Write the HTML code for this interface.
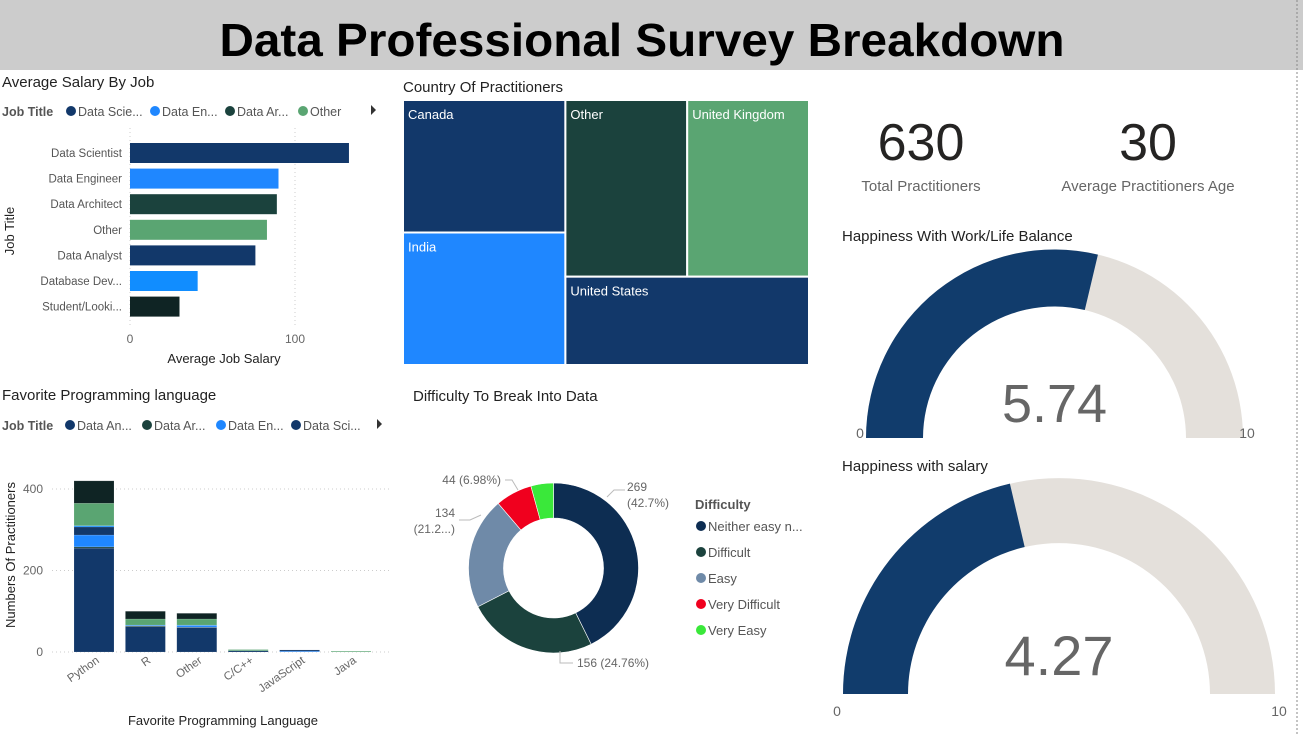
<!DOCTYPE html>
<html><head><meta charset="utf-8">
<style>
html,body{margin:0;padding:0;background:#fff;}
svg{display:block;font-family:"Liberation Sans",sans-serif;}
</style></head>
<body>
<svg id="s" width="1303" height="734" viewBox="0 0 1303 734" xmlns="http://www.w3.org/2000/svg">
<rect x="0" y="0" width="1303" height="70" fill="#cccccc"/>
<text x="642" y="56" text-anchor="middle" font-size="46" font-weight="bold" textLength="845" lengthAdjust="spacingAndGlyphs" fill="#000">Data Professional Survey Breakdown</text>
<line x1="1297" y1="0" x2="1297" y2="734" stroke="#888" stroke-dasharray="2,2"/>

<!-- Salary chart -->
<g id="sal">
<text x="2" y="87" font-size="15" fill="#222">Average Salary By Job</text>
<g font-size="12.5" fill="#555">
<text x="2" y="116" font-weight="bold">Job Title</text>
<circle cx="71" cy="111" r="5" fill="#12386a"/><text x="78" y="116">Data Scie...</text>
<circle cx="155" cy="111" r="5" fill="#1f87ff"/><text x="162" y="116">Data En...</text>
<circle cx="230" cy="111" r="5" fill="#1b423d"/><text x="237" y="116">Data Ar...</text>
<circle cx="303" cy="111" r="5" fill="#5aa572"/><text x="310" y="116">Other</text>
<path d="M371,105 L376,110 L371,115 Z" fill="#333"/>
</g>
<text transform="translate(14,231) rotate(-90)" text-anchor="middle" font-size="13" fill="#222">Job Title</text>
<text x="224" y="363" text-anchor="middle" font-size="13" fill="#222">Average Job Salary</text>
</g>

<!-- Language chart -->
<g id="lang">
<text x="2" y="400" font-size="15" fill="#222">Favorite Programming language</text>
<g font-size="12.5" fill="#555">
<text x="2" y="430" font-weight="bold">Job Title</text>
<circle cx="70" cy="425" r="5" fill="#12386a"/><text x="77" y="430">Data An...</text>
<circle cx="147" cy="425" r="5" fill="#1b423d"/><text x="154" y="430">Data Ar...</text>
<circle cx="221" cy="425" r="5" fill="#1f87ff"/><text x="228" y="430">Data En...</text>
<circle cx="296" cy="425" r="5" fill="#12386a"/><text x="303" y="430">Data Sci...</text>
<path d="M377,419 L382,424 L377,429 Z" fill="#333"/>
</g>
<text transform="translate(15,555) rotate(-90)" text-anchor="middle" font-size="13" fill="#222">Numbers Of Practitioners</text>
<text x="223" y="725" text-anchor="middle" font-size="13" fill="#222">Favorite Programming Language</text>
</g>

<!-- Treemap -->
<g id="tree">
<text x="403" y="92" font-size="15" fill="#222">Country Of Practitioners</text>
</g>

<!-- Donut -->
<g id="donut">
<text x="413" y="401" font-size="15" fill="#222">Difficulty To Break Into Data</text>
</g>

<!-- KPIs -->
<g>
<text x="921" y="160" text-anchor="middle" font-size="52" fill="#252423">630</text>
<text x="921" y="191" text-anchor="middle" font-size="15" fill="#666">Total Practitioners</text>
<text x="1148" y="160" text-anchor="middle" font-size="52" fill="#252423">30</text>
<text x="1148" y="191" text-anchor="middle" font-size="15" fill="#666">Average Practitioners Age</text>
</g>
<g id="gauges">
<text x="842" y="241" font-size="15" fill="#222">Happiness With Work/Life Balance</text>
<text x="842" y="471" font-size="15" fill="#222">Happiness with salary</text>
</g>
</svg>
<script>
const NS="http://www.w3.org/2000/svg";
function mk(parent,tag,attrs,txt){const e=document.createElementNS(NS,tag);for(const k in attrs)e.setAttribute(k,attrs[k]);if(txt!==undefined)e.textContent=txt;parent.appendChild(e);return e;}

// ---- Salary data
const salaryJobs=["Data Scientist","Data Engineer","Data Architect","Other","Data Analyst","Database Dev...","Student/Looki..."];
const salaryValues=[132.7,90,89,83,76,41,30];
const salaryColors=["#12386a","#1f87ff","#1b423d","#5aa572","#12386a","#118dff","#0f2424"];
const salaryTicks=[0,100];
// ---- Language data
const langs=["Python","R","Other","C/C++","JavaScript","Java"];
const langSeries=["Data Analyst","Data Architect","Data Engineer","Data Scientist","Database Developer","Other","Student"];
const langColors=["#12386a","#1b423d","#1f87ff","#12386a","#118dff","#5aa572","#0f2424"];
const sAnalyst=[255,62,60,3,0,0];
const sArchitect=[3,2,1,0,0,0];
const sEngineer=[29,2,4,0,2,0];
const sScientist=[20,0,0,0,3,0];
const sDbDev=[3,0,1,0,0,0];
const sOther=[55,15,15,3,0,2];
const sStudent=[55,19,14,0,0,0];
const langTicks=[0,200,400];
// ---- Treemap data
const countries=["Canada","India","Other","United Kingdom","United States"];
const countryValues=[21,21,21,21,21];
const countryColors=["#12386a","#1f87ff","#1b423d","#5aa572","#12386a"];
// ---- Donut data
const diffCats=["Neither easy n...","Difficult","Easy","Very Difficult","Very Easy"];
const diffValues=[269,156,134,44,27];
const diffColors=["#0d2d52","#1b423d","#6f8aa8","#f0001e","#3ae83a"];
// ---- Gauge data
const gaugeValues=[5.74,4.27];
const gaugeMax=[10,10];

const svg=document.getElementById('s');

// Salary bars
(function(){
 const g=document.getElementById('sal');
 const x0=130,pxPer=1.65,y0=153,step=25.6,bh=20;
 const xs=v=>x0+v*pxPer;
 salaryTicks.forEach(t=>{
  const l=mk(g,'line',{x1:xs(t),y1:128,x2:xs(t),y2:325,stroke:'#ccc','stroke-dasharray':'1,3'});
  
  const tx=mk(g,'text',{x:xs(t),y:343,'text-anchor':'middle','font-size':12,fill:'#666'},t);
  
 });
 salaryJobs.forEach((j,i)=>{
  const cy=y0+i*step;
  const t=mk(g,'text',{x:122,y:cy+4,'text-anchor':'end','font-size':11.5,fill:'#555'},j);
  
  const r=mk(g,'rect',{x:x0,y:cy-bh/2,width:xs(salaryValues[i])-x0,height:bh,fill:salaryColors[i]});
  
 });
})();

// Language stacked bars
(function(){
 const g=document.getElementById('lang');
 const y0=652,pxPer=163/400,x0=74,step=51.4,bw=40;
 const ys=v=>y0-v*pxPer;
 const series=[sAnalyst,sArchitect,sEngineer,sScientist,sDbDev,sOther,sStudent];
 langTicks.forEach(t=>{
  const l=mk(g,'line',{x1:52,y1:ys(t),x2:392,y2:ys(t),stroke:'#ccc','stroke-dasharray':'1,3'});
  
  const tx=mk(g,'text',{x:43,y:ys(t)+4,'text-anchor':'end','font-size':12,fill:'#666'},t);
  
 });
 langs.forEach((l,i)=>{
  const x=x0+i*step;let acc=0;
  series.forEach((s,k)=>{
   const v=s[i];if(v<=0)return;
   const r=mk(g,'rect',{x:x,y:ys(acc+v),width:bw,height:v*pxPer,fill:langColors[k],stroke:'rgba(255,255,255,0.25)','stroke-width':0.5});
   
   acc+=v;
  });
  const cx=x+bw/2+6;
  const t=mk(g,'text',{transform:`translate(${cx},662) rotate(-35)`,'text-anchor':'end','font-size':11.5,fill:'#666'},l);
  
 });
})();

// Treemap
(function(){
 const g=document.getElementById('tree');
 const X=403,Y=100,W=406,H=265;
 const tot=countryValues.reduce((a,b)=>a+b,0);
 const lw=W*(countryValues[0]+countryValues[1])/tot;
 const ch=H*countryValues[0]/(countryValues[0]+countryValues[1]);
 const rt=countryValues[2]+countryValues[3]+countryValues[4];
 const th=H*(countryValues[2]+countryValues[3])/rt;
 const ow=(W-lw)*countryValues[2]/(countryValues[2]+countryValues[3]);
 const rects=[[X,Y,lw,ch],[X,Y+ch,lw,H-ch],[X+lw,Y,ow,th],[X+lw+ow,Y,W-lw-ow,th],[X+lw,Y+th,W-lw,H-th]];
 rects.forEach((r,i)=>{
  const e=mk(g,'rect',{x:r[0],y:r[1],width:r[2],height:r[3],fill:countryColors[i],stroke:'#fff','stroke-width':2});
  
  const t=mk(g,'text',{x:r[0]+5,y:r[1]+19,'font-size':13,fill:'#fff'},countries[i]);
  
 });
})();

// Donut
(function(){
 const g=document.getElementById('donut');
 const cx=553.5,cy=568,R=85,r=50;
 const tot=diffValues.reduce((a,b)=>a+b,0);
 let a=-Math.PI/2;
 const pt=(rad,ang)=>[cx+rad*Math.cos(ang),cy+rad*Math.sin(ang)];
 diffValues.forEach((v,i)=>{
  const a2=a+v/tot*2*Math.PI;const lg=(a2-a)>Math.PI?1:0;
  const p1=pt(R,a),p2=pt(R,a2),p3=pt(r,a2),p4=pt(r,a);
  const p=mk(g,'path',{d:`M${p1[0]},${p1[1]} A${R},${R} 0 ${lg} 1 ${p2[0]},${p2[1]} L${p3[0]},${p3[1]} A${r},${r} 0 ${lg} 0 ${p4[0]},${p4[1]} Z`,fill:diffColors[i],stroke:'#fff','stroke-width':0.6});
  
  a=a2;
 });
 const labels=[[627,491,'start','269'],[627,507,'start','(42.7%)'],[577,667,'start','156 (24.76%)'],[455,517,'end','134'],[455,533,'end','(21.2...)'],[501,484,'end','44 (6.98%)']];
 labels.forEach(l=>{const t=mk(g,'text',{x:l[0],y:l[1],'text-anchor':l[2],'font-size':12,fill:'#666'},l[3]);
  });
 const leaders=["M607,497 L614,490 L625,490","M560,651 L560,663 L573,663","M481,515 L470,520 L459,520","M518,490 L512,480 L505,480"];
 leaders.forEach(d=>{const p=mk(g,'path',{d:d,fill:'none',stroke:'#bbb'});});
 const lt=mk(g,'text',{x:695,y:509,'font-size':13,'font-weight':'bold',fill:'#555'},'Difficulty');
 
 diffCats.forEach((c,i)=>{
  const y=526+i*26;
  const d=mk(g,'circle',{cx:701,cy:y,r:5,fill:diffColors[i]});
  const t=mk(g,'text',{x:708,y:y+5,'font-size':13,fill:'#555'},c);
 });
})();

// Gauges
(function(){
 const g=document.getElementById('gauges');
 const geo=[{cx:1054.5,cy:438,R:188.5,r:131.5,vy:422,fs:54,ly:438},{cx:1059,cy:694,R:216,r:151,vy:675,fs:56,ly:716}];
 const arc=(cx,cy,R,r,a1,a2)=>{
  const P=(rad,a)=>[cx+rad*Math.cos(a),cy-rad*Math.sin(a)];
  const p1=P(R,a1),p2=P(R,a2),p3=P(r,a2),p4=P(r,a1);
  return `M${p1[0]},${p1[1]} A${R},${R} 0 0 1 ${p2[0]},${p2[1]} L${p3[0]},${p3[1]} A${r},${r} 0 0 0 ${p4[0]},${p4[1]} Z`;
 };
 gaugeValues.forEach((v,i)=>{
  const o=geo[i];const av=Math.PI-Math.PI*v/gaugeMax[i];
  const bg=mk(g,'path',{d:arc(o.cx,o.cy,o.R,o.r,Math.PI,0),fill:'#e4e0db'});
  const fg=mk(g,'path',{d:arc(o.cx,o.cy,o.R,o.r,Math.PI,av),fill:'#113c6c'});
  const t=mk(g,'text',{x:o.cx,y:o.vy,'text-anchor':'middle','font-size':o.fs,fill:'#666'},v.toFixed(2));
  const l0=mk(g,'text',{x:o.cx-o.R-6,y:o.ly,'text-anchor':'middle','font-size':14,fill:'#666'},'0');
  const l1=mk(g,'text',{x:o.cx+o.R+4,y:o.ly,'text-anchor':'middle','font-size':14,fill:'#666'},String(gaugeMax[i]));
 });
})();
</script>
</body></html>
